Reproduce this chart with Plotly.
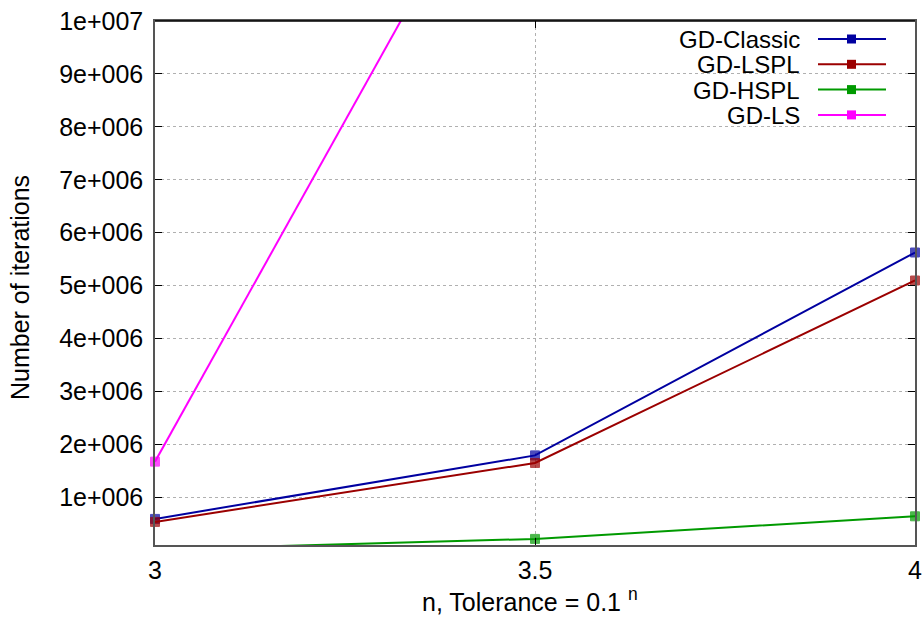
import plotly.graph_objects as go

# Iteration counts for each gradient-descent variant, n = 3, 3.5, 4
n_values = [3, 3.5, 4]
gd_classic = [593000, 1793000, 5626000]
gd_lspl = [536000, 1650000, 5097000]
gd_hspl = [15000, 215000, 642000]
gd_ls = [1675000, 14550000, None]

series_names = ["GD-Classic", "GD-LSPL", "GD-HSPL", "GD-LS"]
series_values = [gd_classic, gd_lspl, gd_hspl, gd_ls]
series_colors = ["#0000a0", "#9b0000", "#009a00", "#ff00ff"]

y_min, y_max = 100000, 10000000
y_ticks = [1000000 * k for k in range(1, 11)]
y_tick_text = ["1e+006", "2e+006", "3e+006", "4e+006", "5e+006",
               "6e+006", "7e+006", "8e+006", "9e+006", "1e+007"]
x_ticks = [3, 3.5, 4]
x_tick_text = ["3", "3.5", "4"]

FONT = "Liberation Sans, Arial, sans-serif"
FS = 25
KEY_FS = 24

fig = go.Figure()
for name, vals, col in zip(series_names, series_values, series_colors):
    # points outside the y range are not drawn
    sizes = [0 if (v is None or v < y_min or v > y_max) else 9 for v in vals]
    fig.add_trace(go.Scatter(
        x=n_values, y=vals, name=name, mode="lines+markers",
        line=dict(color=col, width=2),
        marker=dict(symbol="square", size=sizes, color=col,
                    line=dict(color=col, width=1)),
        cliponaxis=False, showlegend=False,
    ))

L, R, T, B = 155, 9, 21, 74
W, H = 924, 619
pw, ph = W - L - R, H - T - B

fig.update_layout(
    width=W, height=H,
    margin=dict(l=L, r=R, t=T, b=B, autoexpand=False),
    paper_bgcolor="white", plot_bgcolor="white",
    font=dict(family=FONT, size=FS, color="black"),
    showlegend=False,
)
axis_style = dict(
    showline=True, linecolor="#555555", linewidth=1.5, mirror="allticks",
    ticks="inside", ticklen=7, tickcolor="black", tickwidth=1,
    showgrid=True, gridcolor="#b0b0b0", griddash="dot", gridwidth=1,
    zeroline=False, tickfont=dict(size=FS), automargin=False,
)
fig.update_xaxes(range=[3, 4], tickvals=x_ticks, ticktext=x_tick_text,
                 ticklabelstandoff=2, **axis_style)
fig.update_yaxes(range=[y_min, y_max], tickvals=y_ticks, ticktext=y_tick_text,
                 ticklabelstandoff=5, **axis_style)

# top border drawn in black
fig.add_shape(type="line", xref="paper", yref="paper", x0=0, x1=1, y0=1, y1=1,
              line=dict(color="black", width=1.5))

annotations = [
    dict(text="Number of iterations", xref="paper", yref="paper",
         x=(20 - L) / pw, y=1 - (288 - T) / ph, textangle=-90,
         showarrow=False, xanchor="center", yanchor="middle", font=dict(size=FS)),
    dict(text="n, Tolerance = 0.1 <sup>n</sup>", xref="paper", yref="paper",
         x=(530 - L) / pw, y=1 - (600 - T) / ph,
         showarrow=False, xanchor="center", yanchor="middle", font=dict(size=FS)),
]

# key: text right-aligned, then a line sample with a square marker
key_rows = [39.0, 64.3, 89.6, 114.9]
for name, col, yk in zip(series_names, series_colors, key_rows):
    yp = 1 - (yk - T) / ph
    annotations.append(dict(text=name, xref="paper", yref="paper",
                            x=(802 - L) / pw, y=yp, xanchor="right", yanchor="middle",
                            height=24, showarrow=False, font=dict(size=KEY_FS)))
    fig.add_shape(type="line", xref="paper", yref="paper",
                  x0=(818 - L) / pw, x1=(886 - L) / pw, y0=yp, y1=yp,
                  line=dict(color=col, width=2))
    fig.add_shape(type="rect", xref="paper", yref="paper",
                  x0=(847 - L) / pw, x1=(856 - L) / pw,
                  y0=yp - 4.5 / ph, y1=yp + 4.5 / ph,
                  line=dict(width=0), fillcolor=col)

fig.update_layout(annotations=annotations)
fig.write_html("out.html")
